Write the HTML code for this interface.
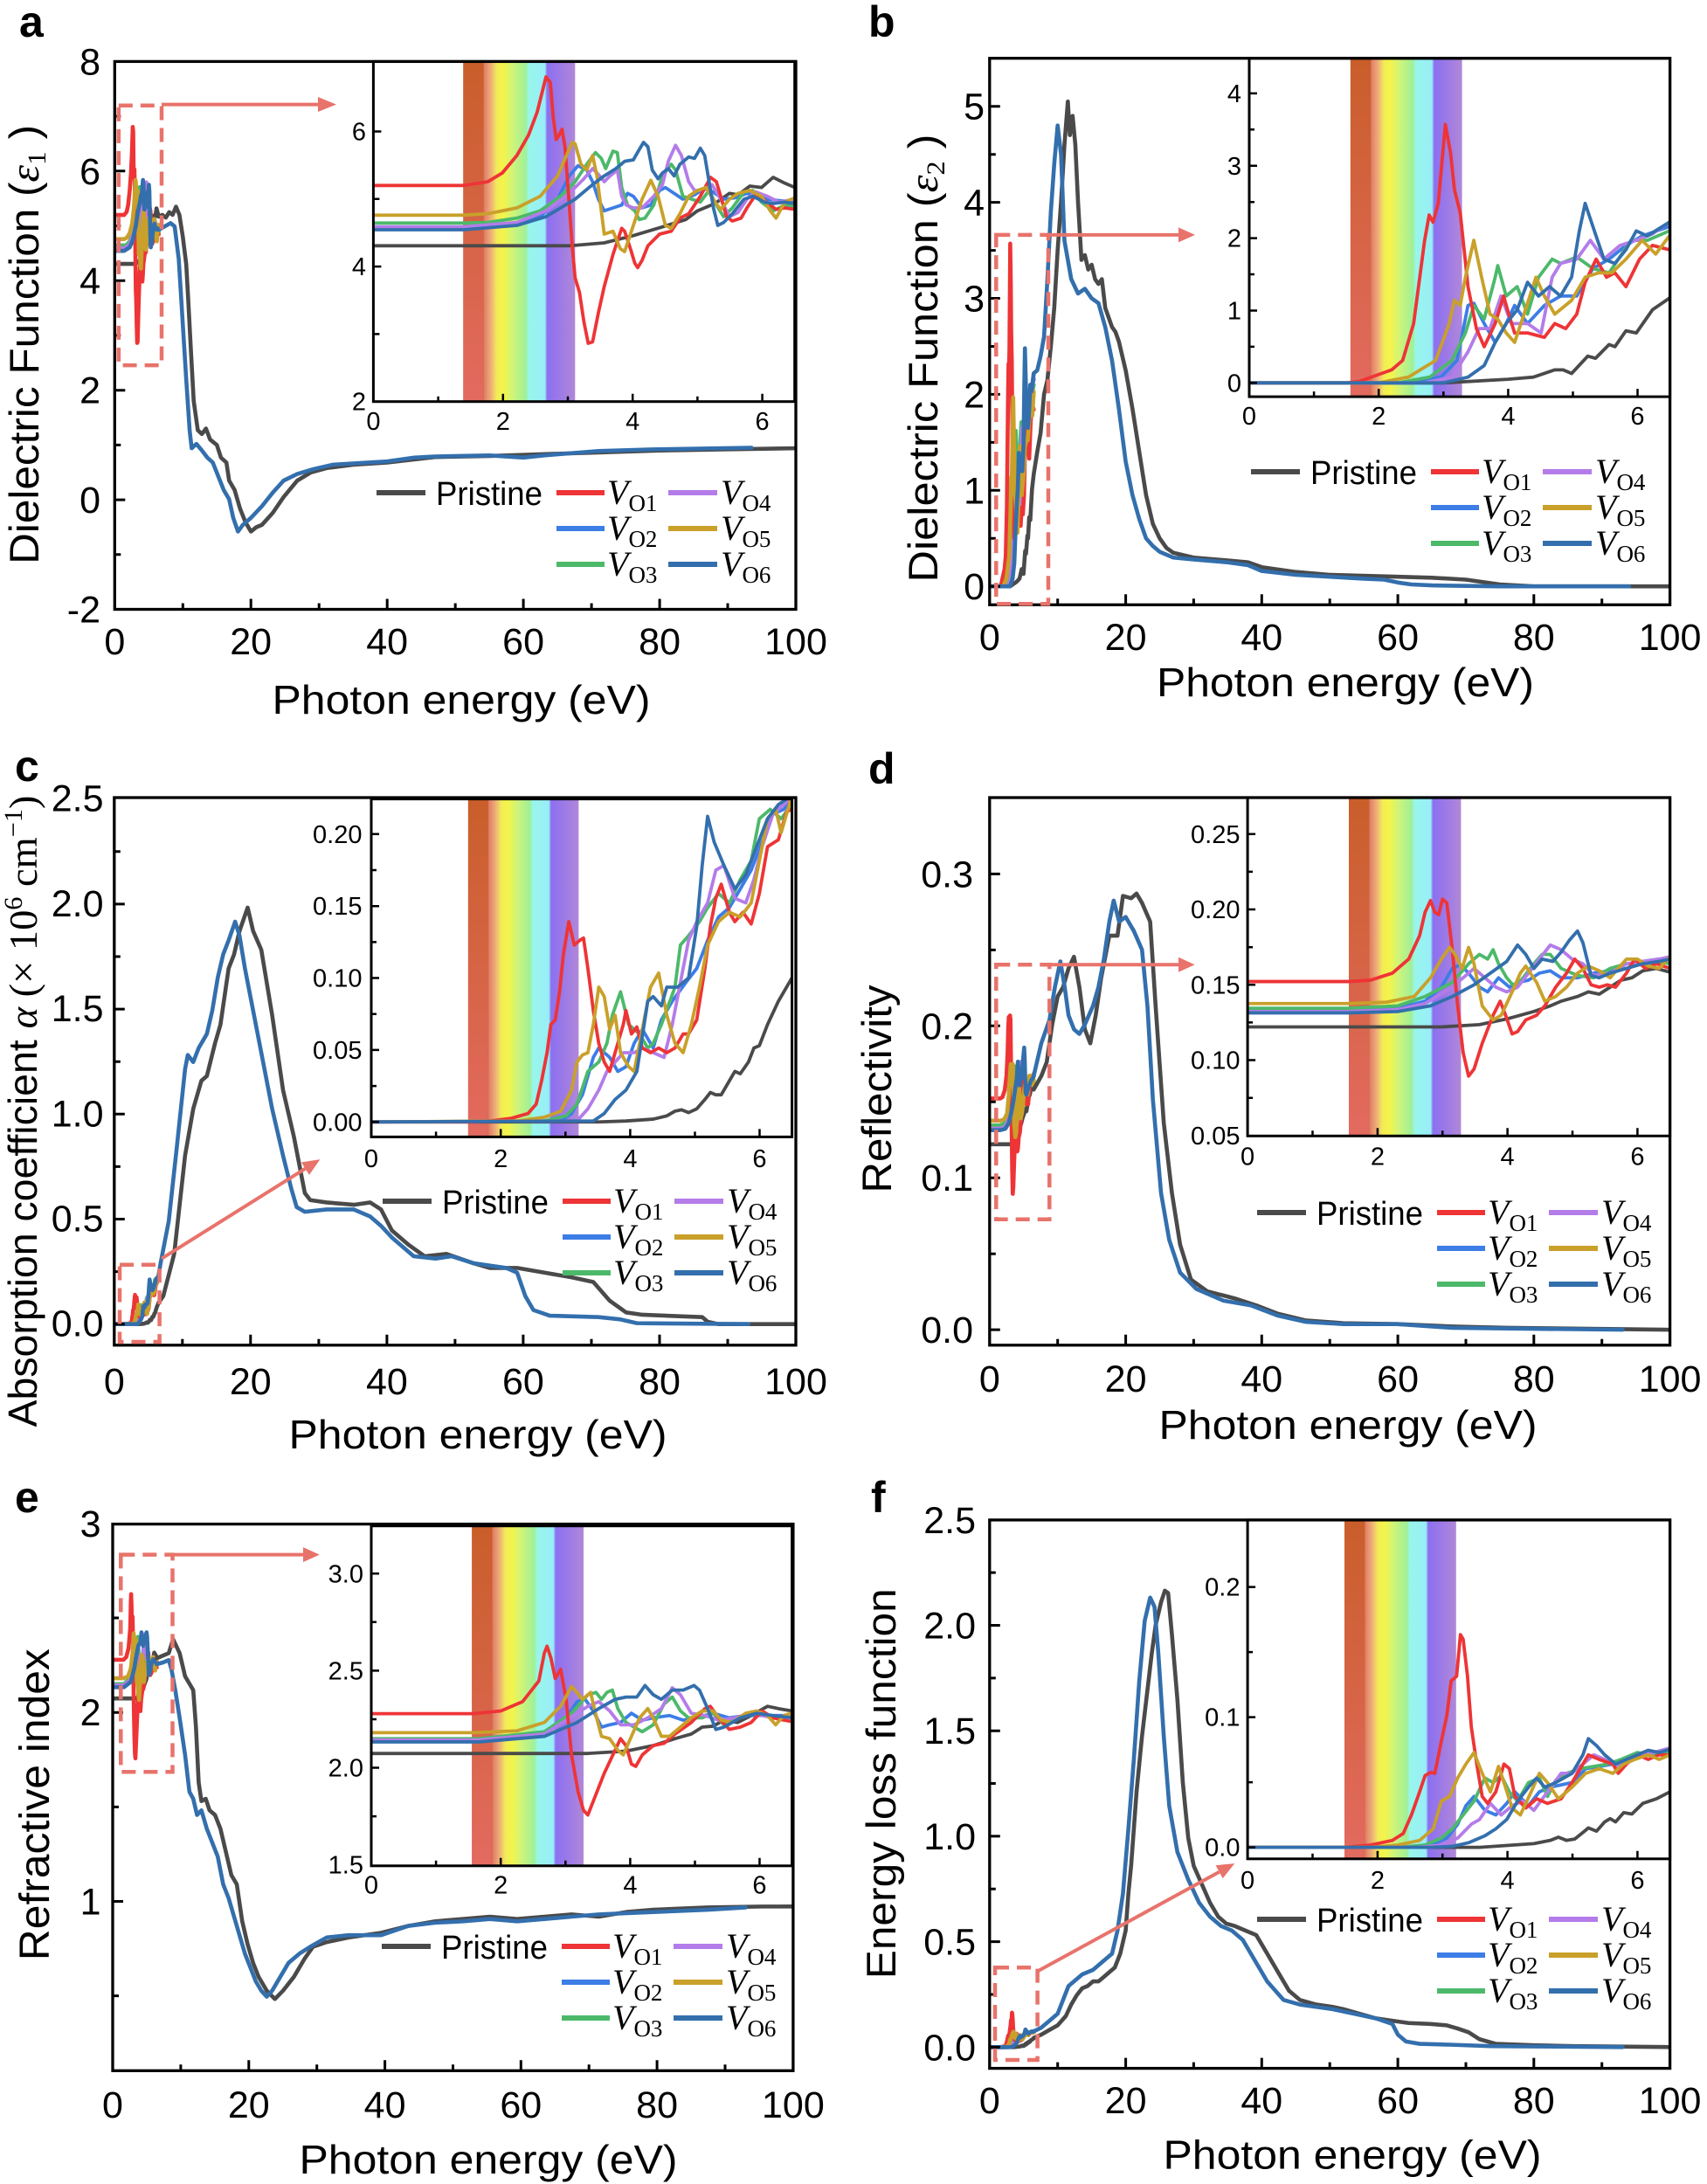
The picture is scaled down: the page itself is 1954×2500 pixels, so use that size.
<!DOCTYPE html>
<html><head><meta charset="utf-8"><style>
html,body{margin:0;padding:0;background:#fff;}
svg{display:block;}
text{font-family:"Liberation Sans",Arial,sans-serif;fill:#000;}
.c{fill:none;vector-effect:non-scaling-stroke;stroke-width:3.8;stroke-linejoin:round;stroke-linecap:round;}
.m{stroke-width:4.6;}
.g{stroke:#4a4a4a}.r{stroke:#ee3436}.bl{stroke:#3c7de6}.gr{stroke:#4cb96a}.pu{stroke:#b47ce9}.go{stroke:#c9a02a}.st{stroke:#336fad}
.fr{fill:none;stroke:#000;stroke-width:3.3}
.ifr{fill:none;stroke:#000;stroke-width:3}
.tk{fill:none;stroke:#000;stroke-width:3}
.itk{fill:none;stroke:#000;stroke-width:2.5}
.xl{font-size:43px;text-anchor:middle}
.yl{font-size:43px;text-anchor:end}
.ix{font-size:29px;text-anchor:middle}
.iy{font-size:29px;text-anchor:end}
.tt{font-size:46px;text-anchor:middle}
.pl{font-size:50px;font-weight:bold}
.lg{font-size:38px}
.vv{font-family:"Liberation Serif",serif;font-size:40px}
.db{fill:none;stroke:#e8736b;stroke-width:4.5;stroke-dasharray:16 9}
.ar{stroke:#e8736b;stroke-width:4}
.ah{fill:#e8736b}
</style></head><body>
<svg width="1954" height="2500" viewBox="0 0 1954 2500" xmlns="http://www.w3.org/2000/svg">
<defs>
<linearGradient id="rb" x1="0" x2="1" y1="0" y2="0">
<stop offset="0" stop-color="#c65a2a"/><stop offset="0.175" stop-color="#cc6030"/><stop offset="0.19" stop-color="#e08068"/><stop offset="0.25" stop-color="#f0b078"/><stop offset="0.3" stop-color="#f2ec58"/><stop offset="0.36" stop-color="#f4f44a"/><stop offset="0.44" stop-color="#d0f478"/><stop offset="0.56" stop-color="#a0f098"/><stop offset="0.585" stop-color="#98f6ea"/><stop offset="0.73" stop-color="#98eef8"/><stop offset="0.75" stop-color="#8c70f0"/><stop offset="0.85" stop-color="#9a78e8"/><stop offset="1" stop-color="#b088d8"/>
</linearGradient>
<linearGradient id="rb1" x1="0" x2="0" y1="0" y2="1"><stop offset="0" stop-color="#c95e2a"/><stop offset="1" stop-color="#e36a60"/></linearGradient>
<clipPath id="cA"><rect x="131.3" y="70.4" width="779.7" height="627.1"/></clipPath>
<clipPath id="cAi"><rect x="427.4" y="70.4" width="482.3" height="389.3"/></clipPath>
<clipPath id="cB"><rect x="1132.8" y="66.7" width="778.8" height="625.6"/></clipPath>
<clipPath id="cBi"><rect x="1430" y="66.7" width="481.6" height="387.4"/></clipPath>
<clipPath id="cC"><rect x="130.8" y="913" width="780.2" height="626.8"/></clipPath>
<clipPath id="cCi"><rect x="425" y="914.6" width="481.6" height="386.8"/></clipPath>
<clipPath id="cD"><rect x="1132.8" y="913" width="778.8" height="626.8"/></clipPath>
<clipPath id="cDi"><rect x="1428.1" y="913" width="483.5" height="387.3"/></clipPath>
<clipPath id="cE"><rect x="129" y="1744.6" width="778.9" height="625.7"/></clipPath>
<clipPath id="cEi"><rect x="425" y="1746.7" width="481.6" height="389.1"/></clipPath>
<clipPath id="cF"><rect x="1132.8" y="1739.9" width="778.8" height="627.7"/></clipPath>
<clipPath id="cFi"><rect x="1428.1" y="1739.9" width="483.5" height="387.9"/></clipPath>
</defs>
<rect width="1954" height="2500" fill="#fff"/>

<!-- ================= PANEL A ================= -->
<text class="pl" x="22" y="42">a</text>
<g clip-path="url(#cA)">
<path class="c m g" transform="matrix(0.034886,0,0,0.2703,131.02,129.06)" d="M8,640 L680,640 L800,630 L900,605 L1000,575 L1080,550 L1120,520 L1180,495 L1230,460 L1260,465 L1300,435 L1340,440 L1380,405 L1420,425 L1455,440"/>
<path class="c m g" transform="matrix(7.797,0,0,-62.71,131.3,572.08)" d="M6.47,5.17 L7,5.2 L7.5,5.15 L8,5.25 L8.5,5.2 L9,5.35 L9.5,5.2 L10,4.8 L10.5,4.3 L10.8,3.64 L11.2,2.7 L11.6,1.8 L12.2,1.27 L12.8,1.2 L13.4,1.3 L14,1.1 L15,1.0 L15.6,0.77 L16.4,0.68 L16.8,0.35 L17.6,0.18 L18.4,-0.16 L19.2,-0.41 L20,-0.58 L20.8,-0.5 L21.6,-0.46 L23.2,-0.24 L24.8,0.05 L26.8,0.35 L28.8,0.5 L31.2,0.58 L35,0.64 L40,0.68 L47,0.78 L55,0.8 L60,0.82 L70,0.86 L80,0.9 L90,0.92 L100,0.94"/>
<g transform="matrix(0.034886,0,0,0.2703,131.02,129.06)">
<path class="c m bl" d="M8,580 L316,580 L500,565 L580,540 L640,480 L680,400 L710,365 L740,380 L760,420 L780,480 L800,520 L830,510 L860,500 L880,460 L900,470 L930,510 L960,500 L990,450 L1010,440 L1040,460 L1070,480 L1110,465 L1150,440 L1180,460 L1210,480 L1250,475 L1290,460 L1320,470 L1360,480 L1400,485 L1455,490"/>
<path class="c m gr" d="M8,562 L316,562 L400,560 L500,545 L580,520 L650,470 L700,420 L740,360 L770,320 L790,340 L805,375 L830,315 L845,320 L860,440 L880,500 L905,520 L920,550 L940,545 L970,500 L1000,400 L1030,360 L1045,380 L1070,470 L1100,480 L1130,490 L1160,450 L1185,500 L1210,540 L1240,510 L1280,455 L1310,450 L1340,490 L1380,520 L1420,500 L1455,505"/>
<path class="c m pu" d="M8,575 L316,575 L500,560 L600,520 L680,460 L730,410 L760,375 L780,395 L800,420 L820,400 L845,380 L860,470 L875,500 L900,510 L930,510 L970,470 L1000,430 L1020,350 L1045,295 L1065,330 L1090,420 L1110,450 L1140,450 L1170,430 L1200,480 L1230,540 L1260,525 L1290,480 L1320,455 L1360,470 L1400,490 L1455,480"/>
<path class="c m r" d="M8,433 L316,433 L400,420 L450,390 L500,330 L540,260 L570,180 L590,100 L600,60 L615,80 L625,200 L635,275 L645,260 L655,240 L665,300 L680,500 L690,640 L700,750 L715,800 L730,900 L745,975 L760,970 L780,870 L800,780 L830,670 L860,580 L870,590 L890,650 L905,700 L915,715 L930,690 L950,640 L990,600 L1030,590 L1060,545 L1090,530 L1130,470 L1165,405 L1185,420 L1200,470 L1220,540 L1240,555 L1270,545 L1290,510 L1320,465 L1345,480 L1370,500 L1390,515 L1420,510 L1455,515"/>
<path class="c m go" d="M8,535 L316,535 L400,530 L500,510 L580,470 L640,400 L670,330 L690,285 L700,290 L720,360 L740,380 L760,330 L775,400 L800,600 L830,590 L855,650 L870,660 L900,570 L930,480 L960,415 L985,470 L1010,570 L1030,580 L1060,530 L1090,470 L1120,450 L1150,440 L1180,490 L1200,515 L1230,480 L1260,460 L1300,450 L1340,470 L1370,520 L1390,545 L1420,490 L1455,475"/>
<path class="c m st" d="M8,585 L316,585 L500,570 L600,540 L700,480 L760,430 L800,400 L840,375 L870,350 L900,345 L920,310 L935,285 L950,300 L965,380 L985,410 L1000,390 L1020,375 L1040,400 L1060,360 L1090,335 L1110,340 L1130,305 L1145,330 L1160,420 L1175,510 L1190,570 L1210,560 L1240,530 L1280,480 L1310,470 L1350,490 L1380,495 L1420,490 L1455,495"/>
</g>
<path class="c m st" transform="matrix(7.797,0,0,-62.71,131.3,572.08)" d="M6.47,4.93 L7.5,5.0 L8.2,5.05 L8.8,4.99 L9.4,4.4 L10,3.2 L10.5,2.2 L11,1.27 L11.3,0.94 L12,1.02 L12.8,0.9 L13.6,0.77 L14.4,0.68 L15.2,0.43 L16,0.18 L16.8,0.01 L17.4,-0.33 L18.1,-0.58 L18.8,-0.46 L20,-0.33 L21.6,-0.12 L23.2,0.13 L24.8,0.35 L26.8,0.47 L29.2,0.56 L32,0.64 L36,0.67 L40,0.7 L44,0.77 L47,0.79 L55,0.81 L60,0.77 L63,0.81 L71,0.89 L79,0.92 L93.5,0.95"/>
</g>
<!-- inset a -->
<rect x="427.4" y="70.4" width="482.3" height="389.3" fill="#fff"/>
<rect x="530.3" y="70.4" width="128" height="389.3" fill="url(#rb)"/>
<rect x="530.3" y="70.4" width="23" height="389.3" fill="url(#rb1)"/>
<g clip-path="url(#cAi)"><g transform="matrix(0.33333,0,0,0.33333,425,68)">
<path class="c g" d="M8,640 L680,640 L800,630 L900,605 L1000,575 L1080,550 L1120,520 L1180,495 L1230,460 L1260,465 L1300,435 L1340,440 L1380,405 L1420,425 L1455,440"/>
<path class="c bl" d="M8,580 L316,580 L500,565 L580,540 L640,480 L680,400 L710,365 L740,380 L760,420 L780,480 L800,520 L830,510 L860,500 L880,460 L900,470 L930,510 L960,500 L990,450 L1010,440 L1040,460 L1070,480 L1110,465 L1150,440 L1180,460 L1210,480 L1250,475 L1290,460 L1320,470 L1360,480 L1400,485 L1455,490"/>
<path class="c gr" d="M8,562 L316,562 L400,560 L500,545 L580,520 L650,470 L700,420 L740,360 L770,320 L790,340 L805,375 L830,315 L845,320 L860,440 L880,500 L905,520 L920,550 L940,545 L970,500 L1000,400 L1030,360 L1045,380 L1070,470 L1100,480 L1130,490 L1160,450 L1185,500 L1210,540 L1240,510 L1280,455 L1310,450 L1340,490 L1380,520 L1420,500 L1455,505"/>
<path class="c pu" d="M8,575 L316,575 L500,560 L600,520 L680,460 L730,410 L760,375 L780,395 L800,420 L820,400 L845,380 L860,470 L875,500 L900,510 L930,510 L970,470 L1000,430 L1020,350 L1045,295 L1065,330 L1090,420 L1110,450 L1140,450 L1170,430 L1200,480 L1230,540 L1260,525 L1290,480 L1320,455 L1360,470 L1400,490 L1455,480"/>
<path class="c r" d="M8,433 L316,433 L400,420 L450,390 L500,330 L540,260 L570,180 L590,100 L600,60 L615,80 L625,200 L635,275 L645,260 L655,240 L665,300 L680,500 L690,640 L700,750 L715,800 L730,900 L745,975 L760,970 L780,870 L800,780 L830,670 L860,580 L870,590 L890,650 L905,700 L915,715 L930,690 L950,640 L990,600 L1030,590 L1060,545 L1090,530 L1130,470 L1165,405 L1185,420 L1200,470 L1220,540 L1240,555 L1270,545 L1290,510 L1320,465 L1345,480 L1370,500 L1390,515 L1420,510 L1455,515"/>
<path class="c go" d="M8,535 L316,535 L400,530 L500,510 L580,470 L640,400 L670,330 L690,285 L700,290 L720,360 L740,380 L760,330 L775,400 L800,600 L830,590 L855,650 L870,660 L900,570 L930,480 L960,415 L985,470 L1010,570 L1030,580 L1060,530 L1090,470 L1120,450 L1150,440 L1180,490 L1200,515 L1230,480 L1260,460 L1300,450 L1340,470 L1370,520 L1390,545 L1420,490 L1455,475"/>
<path class="c st" d="M8,585 L316,585 L500,570 L600,540 L700,480 L760,430 L800,400 L840,375 L870,350 L900,345 L920,310 L935,285 L950,300 L965,380 L985,410 L1000,390 L1020,375 L1040,400 L1060,360 L1090,335 L1110,340 L1130,305 L1145,330 L1160,420 L1175,510 L1190,570 L1210,560 L1240,530 L1280,480 L1310,470 L1350,490 L1380,495 L1420,490 L1455,495"/>
</g></g>
<rect class="ifr" x="427.4" y="70.4" width="482.3" height="389.3"/>
<path class="itk" d="M501.6,459.7v-6M575.8,459.7v-9M650,459.7v-6M724.2,459.7v-9M798.4,459.7v-6M872.6,459.7v-9M427.4,382.4h7M427.4,305.1h9M427.4,227.8h7M427.4,150.5h9"/>
<text class="iy" x="419" y="469.7">2</text><text class="iy" x="419" y="315.1">4</text><text class="iy" x="419" y="160.5">6</text>
<text class="ix" x="427.4" y="492">0</text><text class="ix" x="575.8" y="492">2</text><text class="ix" x="724.2" y="492">4</text><text class="ix" x="872.6" y="492">6</text>
<!-- frame a -->
<rect class="fr" x="131.3" y="70.4" width="779.7" height="627.1"/>
<path class="tk" d="M287.2,697.5v-12M443.2,697.5v-12M599.1,697.5v-12M755.1,697.5v-12M209.3,697.5v-7M365.2,697.5v-7M521.2,697.5v-7M677.1,697.5v-7M833,697.5v-7M131.3,572.1h12M131.3,446.7h12M131.3,321.2h12M131.3,195.8h12M131.3,634.8h7M131.3,509.4h7M131.3,383.9h7M131.3,258.5h7M131.3,133.1h7"/>
<text class="yl" x="115" y="85.4">8</text><text class="yl" x="115" y="210.8">6</text><text class="yl" x="115" y="336.2">4</text><text class="yl" x="115" y="461.7">2</text><text class="yl" x="115" y="587.1">0</text><text class="yl" x="115" y="712.5">-2</text>
<text class="xl" x="131.3" y="749">0</text><text class="xl" x="287.2" y="749">20</text><text class="xl" x="443.2" y="749">40</text><text class="xl" x="599.1" y="749">60</text><text class="xl" x="755.1" y="749">80</text><text class="xl" x="911" y="749">100</text>
<text class="tt" x="528" y="817" textLength="433" lengthAdjust="spacingAndGlyphs">Photon energy (eV)</text>
<text transform="translate(44,394.4) rotate(-90)" font-size="47" text-anchor="middle" textLength="503" lengthAdjust="spacingAndGlyphs">Dielectric Function (<tspan font-family="Liberation Serif" font-style="italic">ε</tspan><tspan font-family="Liberation Serif" font-size="30" dy="8">1</tspan><tspan dy="-8"> )</tspan></text>
<rect class="db" x="135.8" y="120.7" width="49.2" height="297.4"/>
<line class="ar" x1="185" y1="119.6" x2="366" y2="119.6"/><polygon class="ah" points="385,119.6 364,111 364,128"/>
<g transform="translate(431,564)">
<line x1="0" x2="56" y1="0" y2="0" stroke="#4a4a4a" stroke-width="6"/><text class="lg" x="68" y="14" textLength="122" lengthAdjust="spacingAndGlyphs">Pristine</text>
<line x1="206" x2="261" y1="0" y2="0" stroke="#ee3436" stroke-width="6"/><text class="vv" x="264" y="13"><tspan font-style="italic">V</tspan><tspan font-size="27" dy="8">O1</tspan></text>
<line x1="206" x2="261" y1="41" y2="41" stroke="#3c7de6" stroke-width="6"/><text class="vv" x="264" y="54"><tspan font-style="italic">V</tspan><tspan font-size="27" dy="8">O2</tspan></text>
<line x1="206" x2="261" y1="82" y2="82" stroke="#4cb96a" stroke-width="6"/><text class="vv" x="264" y="95"><tspan font-style="italic">V</tspan><tspan font-size="27" dy="8">O3</tspan></text>
<line x1="334" x2="390" y1="0" y2="0" stroke="#b47ce9" stroke-width="6"/><text class="vv" x="394" y="13"><tspan font-style="italic">V</tspan><tspan font-size="27" dy="8">O4</tspan></text>
<line x1="334" x2="390" y1="41" y2="41" stroke="#c9a02a" stroke-width="6"/><text class="vv" x="394" y="54"><tspan font-style="italic">V</tspan><tspan font-size="27" dy="8">O5</tspan></text>
<line x1="334" x2="390" y1="82" y2="82" stroke="#336fad" stroke-width="6"/><text class="vv" x="394" y="95"><tspan font-style="italic">V</tspan><tspan font-size="27" dy="8">O6</tspan></text>
</g>

<!-- ================= PANEL B ================= -->
<text class="pl" x="994" y="42">b</text>
<g clip-path="url(#cB)"><g transform="matrix(7.788,0,0,-109.9,1132.8,671.2)">
<path class="c m g" d="M0,0 L3,0 L4,0.05 L4.39,0.08 L4.72,0.18 L4.85,0.18 L4.98,0.13 L5.23,0.37 L5.35,0.34 L5.56,0.53 L5.65,0.5 L5.82,0.72 L5.98,0.69 L6.23,1.01 L6.49,1.17 L7,1.4 L7.5,1.6 L8,2.0 L8.5,2.15 L9,2.5 L9.5,2.9 L10,3.5 L10.5,4.0 L11,4.6 L11.5,5.05 L11.8,4.7 L12.2,4.9 L12.6,4.6 L13,4.0 L13.5,3.4 L14,3.45 L14.5,3.3 L15,3.35 L15.5,3.2 L16,3.15 L16.5,3.2 L17,2.9 L17.5,2.8 L18,2.7 L18.5,2.65 L19,2.55 L19.5,2.4 L20,2.25 L21,1.85 L22,1.4 L23,0.95 L24,0.65 L25,0.5 L26,0.4 L27,0.35 L30,0.3 L35,0.27 L38,0.25 L40,0.2 L45,0.15 L50,0.12 L60,0.1 L65,0.09 L70,0.07 L75,0.02 L80,0 L100,0"/>
<path class="c m bl" d="M0,0 L2.5,0 L2.96,0.08 L3.21,0.31 L3.38,1.07 L3.47,1.1 L3.63,0.82 L3.8,0.56 L3.97,0.82 L4.1,1.07 L4.3,0.82 L4.56,1.07 L4.81,1.2 L5.06,1.2 L5.31,1.58 L5.56,1.71 L5.82,1.9 L6.07,2.03 L6.49,2.16"/>
<path class="c m gr" d="M0,0 L2.3,0 L2.79,0.08 L3.13,0.31 L3.34,0.69 L3.47,1.07 L3.63,0.88 L3.8,1.46 L3.84,1.62 L3.97,1.2 L4.14,1.33 L4.3,0.95 L4.47,1.46 L4.68,1.71 L4.81,1.65 L5.06,1.74 L5.31,1.58 L5.56,1.52 L5.9,1.97 L6.15,1.97 L6.49,2.1"/>
<path class="c m pu" d="M0,0 L2.7,0 L3.13,0.08 L3.38,0.43 L3.55,0.75 L3.72,0.75 L3.89,1.2 L4.05,0.82 L4.3,0.82 L4.51,0.69 L4.68,1.46 L4.81,1.65 L5.06,1.71 L5.27,1.97 L5.48,1.71 L5.73,1.9 L5.98,1.97 L6.23,2.06 L6.49,2.22"/>
<path class="c m r" d="M0,0 L1.5,0 L1.7,0.02 L2.2,0.18 L2.37,0.31 L2.54,0.82 L2.71,1.97 L2.78,2.32 L2.84,2.22 L2.92,2.48 L3.03,3.57 L3.11,3.18 L3.17,2.67 L3.26,2.35 L3.38,1.33 L3.51,0.75 L3.63,0.5 L3.8,0.82 L3.93,1.2 L4.01,0.95 L4.1,0.69 L4.3,0.69 L4.56,0.63 L4.72,0.82 L4.89,0.75 L5.06,0.95 L5.19,1.39 L5.36,1.71 L5.52,1.46 L5.65,1.52 L5.82,1.33 L6.03,1.71 L6.23,1.9 L6.49,1.84"/>
<path class="c m go" d="M0,0 L2,0 L2.46,0.08 L2.88,0.31 L3.09,0.82 L3.17,1.14 L3.26,1.07 L3.34,1.46 L3.47,1.97 L3.59,1.46 L3.72,0.95 L3.84,0.88 L3.97,0.69 L4.1,0.56 L4.22,0.88 L4.43,1.46 L4.56,1.2 L4.72,0.95 L4.98,1.14 L5.19,1.46 L5.4,1.52 L5.6,1.52 L5.82,1.71 L6.07,1.97 L6.28,1.78 L6.49,2.03"/>
<path class="c m st" d="M0,0 L3,0 L3.38,0.08 L3.63,0.24 L3.8,0.56 L3.97,0.82 L4.14,1.01 L4.3,1.39 L4.47,1.2 L4.64,1.33 L4.81,1.2 L4.98,1.46 L5.1,2.1 L5.19,2.48 L5.31,2.16 L5.48,1.71 L5.65,1.65 L5.82,1.84 L5.98,2.1 L6.15,2.03 L6.49,2.22 L7,2.25 L7.5,2.4 L8,2.6 L8.5,3.2 L9,3.9 L9.5,4.4 L10,4.8 L10.5,4.5 L11,3.6 L11.5,3.4 L12,3.2 L13,3.05 L14,3.1 L15,3.0 L16,2.95 L17,2.7 L18,2.35 L19,1.85 L20,1.3 L21,0.95 L22,0.7 L23,0.5 L24,0.42 L25,0.36 L27,0.3 L30,0.28 L35,0.25 L38,0.22 L40,0.16 L45,0.12 L50,0.1 L55,0.08 L58,0.07 L60,0.04 L62,0.02 L65,0.01 L75,0 L94,0"/>
</g></g>
<rect x="1430" y="66.7" width="481.6" height="387.4" fill="#fff"/>
<rect x="1545.9" y="66.7" width="127.7" height="387.4" fill="url(#rb)"/>
<rect x="1545.9" y="66.7" width="23" height="387.4" fill="url(#rb1)"/>
<g clip-path="url(#cBi)"><g transform="matrix(74.09,0,0,-82.85,1430,438.3)">
<path class="c g" d="M0,0 L3,0 L4,0.05 L4.39,0.08 L4.72,0.18 L4.85,0.18 L4.98,0.13 L5.23,0.37 L5.35,0.34 L5.56,0.53 L5.65,0.5 L5.82,0.72 L5.98,0.69 L6.23,1.01 L6.49,1.17"/>
<path class="c bl" d="M0,0 L2.5,0 L2.96,0.08 L3.21,0.31 L3.38,1.07 L3.47,1.1 L3.63,0.82 L3.8,0.56 L3.97,0.82 L4.1,1.07 L4.3,0.82 L4.56,1.07 L4.81,1.2 L5.06,1.2 L5.31,1.58 L5.56,1.71 L5.82,1.9 L6.07,2.03 L6.49,2.16"/>
<path class="c gr" d="M0,0 L2.3,0 L2.79,0.08 L3.13,0.31 L3.34,0.69 L3.47,1.07 L3.63,0.88 L3.8,1.46 L3.84,1.62 L3.97,1.2 L4.14,1.33 L4.3,0.95 L4.47,1.46 L4.68,1.71 L4.81,1.65 L5.06,1.74 L5.31,1.58 L5.56,1.52 L5.9,1.97 L6.15,1.97 L6.49,2.1"/>
<path class="c pu" d="M0,0 L2.7,0 L3.13,0.08 L3.38,0.43 L3.55,0.75 L3.72,0.75 L3.89,1.2 L4.05,0.82 L4.3,0.82 L4.51,0.69 L4.68,1.46 L4.81,1.65 L5.06,1.71 L5.27,1.97 L5.48,1.71 L5.73,1.9 L5.98,1.97 L6.23,2.06 L6.49,2.22"/>
<path class="c r" d="M0,0 L1.5,0 L1.7,0.02 L2.2,0.18 L2.37,0.31 L2.54,0.82 L2.71,1.97 L2.78,2.32 L2.84,2.22 L2.92,2.48 L3.03,3.57 L3.11,3.18 L3.17,2.67 L3.26,2.35 L3.38,1.33 L3.51,0.75 L3.63,0.5 L3.8,0.82 L3.93,1.2 L4.01,0.95 L4.1,0.69 L4.3,0.69 L4.56,0.63 L4.72,0.82 L4.89,0.75 L5.06,0.95 L5.19,1.39 L5.36,1.71 L5.52,1.46 L5.65,1.52 L5.82,1.33 L6.03,1.71 L6.23,1.9 L6.49,1.84"/>
<path class="c go" d="M0,0 L2,0 L2.46,0.08 L2.88,0.31 L3.09,0.82 L3.17,1.14 L3.26,1.07 L3.34,1.46 L3.47,1.97 L3.59,1.46 L3.72,0.95 L3.84,0.88 L3.97,0.69 L4.1,0.56 L4.22,0.88 L4.43,1.46 L4.56,1.2 L4.72,0.95 L4.98,1.14 L5.19,1.46 L5.4,1.52 L5.6,1.52 L5.82,1.71 L6.07,1.97 L6.28,1.78 L6.49,2.03"/>
<path class="c st" d="M0,0 L3,0 L3.38,0.08 L3.63,0.24 L3.8,0.56 L3.97,0.82 L4.14,1.01 L4.3,1.39 L4.47,1.2 L4.64,1.33 L4.81,1.2 L4.98,1.46 L5.1,2.1 L5.19,2.48 L5.31,2.16 L5.48,1.71 L5.65,1.65 L5.82,1.84 L5.98,2.1 L6.15,2.03 L6.49,2.22"/>
</g></g>
<rect class="ifr" x="1430" y="66.7" width="481.6" height="387.4"/>
<path class="itk" d="M1504.1,454.1v-6M1578.2,454.1v-9M1652.3,454.1v-6M1726.4,454.1v-9M1800.5,454.1v-6M1874.5,454.1v-9M1430,438.3h9M1430,355.45h9M1430,272.6h9M1430,189.75h9M1430,106.9h9M1430,396.9h6M1430,314h6M1430,231.2h6M1430,148.3h6"/>
<text class="iy" x="1421" y="448.3">0</text><text class="iy" x="1421" y="365.45">1</text><text class="iy" x="1421" y="282.6">2</text><text class="iy" x="1421" y="199.75">3</text><text class="iy" x="1421" y="116.9">4</text>
<text class="ix" x="1430" y="486">0</text><text class="ix" x="1578.2" y="486">2</text><text class="ix" x="1726.4" y="486">4</text><text class="ix" x="1874.5" y="486">6</text>
<rect class="fr" x="1132.8" y="66.7" width="778.8" height="625.6"/>
<path class="tk" d="M1288.6,692.3v-12M1444.3,692.3v-12M1600.1,692.3v-12M1755.8,692.3v-12M1210.7,692.3v-7M1366.4,692.3v-7M1522.2,692.3v-7M1678,692.3v-7M1833.7,692.3v-7M1132.8,671.2h12M1132.8,561.3h12M1132.8,451.4h12M1132.8,341.5h12M1132.8,231.6h12M1132.8,121.7h12M1132.8,616.3h7M1132.8,506.4h7M1132.8,396.5h7M1132.8,286.6h7M1132.8,176.7h7"/>
<text class="yl" x="1127" y="136.7">5</text><text class="yl" x="1127" y="246.6">4</text><text class="yl" x="1127" y="356.5">3</text><text class="yl" x="1127" y="466.4">2</text><text class="yl" x="1127" y="576.3">1</text><text class="yl" x="1127" y="686.2">0</text>
<text class="xl" x="1132.8" y="744">0</text><text class="xl" x="1288.6" y="744">20</text><text class="xl" x="1444.3" y="744">40</text><text class="xl" x="1600.1" y="744">60</text><text class="xl" x="1755.8" y="744">80</text><text class="xl" x="1911.6" y="744">100</text>
<text class="tt" x="1540" y="797" textLength="432" lengthAdjust="spacingAndGlyphs">Photon energy (eV)</text>
<text transform="translate(1073,410) rotate(-90)" font-size="47" text-anchor="middle" textLength="513" lengthAdjust="spacingAndGlyphs">Dielectric Function (<tspan font-family="Liberation Serif" font-style="italic">ε</tspan><tspan font-family="Liberation Serif" font-size="30" dy="8">2</tspan><tspan dy="-8"> )</tspan></text>
<rect class="db" x="1140.3" y="268.9" width="59.7" height="422.4"/>
<line class="ar" x1="1200" y1="268.9" x2="1350" y2="268.9"/><polygon class="ah" points="1368,268.9 1349,260.4 1349,277.4"/>
<g transform="translate(1432,540)">
<line x1="0" x2="56" y1="0" y2="0" stroke="#4a4a4a" stroke-width="6"/><text class="lg" x="68" y="14" textLength="122" lengthAdjust="spacingAndGlyphs">Pristine</text>
<line x1="206" x2="261" y1="0" y2="0" stroke="#ee3436" stroke-width="6"/><text class="vv" x="264" y="13"><tspan font-style="italic">V</tspan><tspan font-size="27" dy="8">O1</tspan></text>
<line x1="206" x2="261" y1="41" y2="41" stroke="#3c7de6" stroke-width="6"/><text class="vv" x="264" y="54"><tspan font-style="italic">V</tspan><tspan font-size="27" dy="8">O2</tspan></text>
<line x1="206" x2="261" y1="82" y2="82" stroke="#4cb96a" stroke-width="6"/><text class="vv" x="264" y="95"><tspan font-style="italic">V</tspan><tspan font-size="27" dy="8">O3</tspan></text>
<line x1="334" x2="390" y1="0" y2="0" stroke="#b47ce9" stroke-width="6"/><text class="vv" x="394" y="13"><tspan font-style="italic">V</tspan><tspan font-size="27" dy="8">O4</tspan></text>
<line x1="334" x2="390" y1="41" y2="41" stroke="#c9a02a" stroke-width="6"/><text class="vv" x="394" y="54"><tspan font-style="italic">V</tspan><tspan font-size="27" dy="8">O5</tspan></text>
<line x1="334" x2="390" y1="82" y2="82" stroke="#336fad" stroke-width="6"/><text class="vv" x="394" y="95"><tspan font-style="italic">V</tspan><tspan font-size="27" dy="8">O6</tspan></text>
</g>

<!-- ================= PANEL C ================= -->
<text class="pl" x="17" y="894">c</text>
<g clip-path="url(#cC)">
<g transform="matrix(0.06547,0,0,0.078179,86.15,1449.4)">
<path class="c m g" d="M682,848 L1100,848 L1150,846 L1200,842 L1225,835 L1240,825 L1252,822 L1265,828 L1280,820 L1295,800 L1305,785 L1315,790 L1325,790 L1340,760 L1350,740 L1360,745 L1375,720 L1385,690 L1395,685 L1410,640 L1430,590 L1455,540"/>
<path class="c m bl" d="M682,848 L1030,846 L1050,830 L1070,790 L1090,710 L1100,690 L1110,700 L1120,710 L1135,740 L1150,730 L1165,680 L1180,650 L1200,690 L1215,630 L1235,590 L1260,550 L1280,520 L1300,460 L1320,410 L1340,390 L1360,350 L1380,310 L1400,250 L1420,190 L1440,180 L1455,160"/>
<path class="c m gr" d="M682,848 L1000,846 L1040,835 L1060,810 L1080,740 L1100,720 L1115,680 L1125,620 L1140,570 L1155,640 L1175,660 L1190,690 L1200,680 L1215,640 L1240,560 L1250,470 L1265,450 L1285,420 L1300,390 L1320,360 L1340,380 L1360,330 L1380,290 L1395,200 L1415,180 L1435,200 L1455,170"/>
<path class="c m pu" d="M682,848 L1060,846 L1080,820 L1100,780 L1115,740 L1130,720 L1145,700 L1165,700 L1180,690 L1200,700 L1220,710 L1235,640 L1250,550 L1265,460 L1280,420 L1300,380 L1315,310 L1330,300 L1350,370 L1370,380 L1385,330 L1400,260 L1420,190 L1440,170 L1455,150"/>
<path class="c m r" d="M682,848 L860,848 L900,846 L940,840 L970,830 L985,810 L995,760 L1005,700 L1012,640 L1020,630 L1028,570 L1035,490 L1045,420 L1055,470 L1065,460 L1072,455 L1080,520 L1090,610 L1100,680 L1110,720 L1120,740 L1130,700 L1145,640 L1150,610 L1160,660 L1170,645 L1180,690 L1195,700 L1210,690 L1225,700 L1240,690 L1255,660 L1265,660 L1280,630 L1295,520 L1305,430 L1315,370 L1325,340 L1340,400 L1350,420 L1365,400 L1380,425 L1395,360 L1410,260 L1430,245 L1445,185 L1455,180"/>
<path class="c m go" d="M682,848 L950,846 L1000,838 L1030,825 L1050,780 L1060,720 L1070,705 L1080,700 L1090,640 L1100,560 L1110,580 L1120,650 L1130,620 L1140,700 L1155,730 L1165,740 L1180,650 L1195,560 L1210,530 L1225,620 L1240,680 L1255,700 L1270,640 L1285,560 L1300,470 L1320,420 L1340,400 L1360,410 L1380,380 L1395,290 L1410,200 L1425,180 L1435,230 L1445,190 L1455,150"/>
<path class="c m st" d="M682,848 L1090,846 L1110,830 L1130,800 L1150,780 L1170,740 L1190,590 L1200,580 L1215,600 L1225,560 L1245,560 L1265,540 L1280,430 L1290,300 L1300,195 L1312,250 L1330,300 L1350,350 L1370,320 L1390,260 L1410,200 L1430,170 L1455,150"/>
</g>
<g transform="matrix(0.6231,0,0,0.5357,0,830)">
<path class="c m g" d="M291,1235 L300,1220 L320,1130 L340,920 L355,820 L370,760 L380,750 L395,680 L405,640 L420,520 L430,490 L440,440 L455,390 L465,440 L480,480 L500,620 L520,780 L540,880 L560,1000 L570,1015 L600,1020 L650,1025 L680,1020 L700,1035 L720,1080 L750,1110 L780,1135 L820,1130 L870,1150 L900,1160 L950,1160 L1000,1170 L1050,1180 L1090,1190 L1120,1230 L1150,1255 L1180,1260 L1290,1265 L1300,1275 L1320,1280 L1462,1280"/>
<path class="c m st" d="M291,1178 L295,1150 L310,1060 L325,900 L340,735 L345,705 L355,720 L365,690 L380,660 L390,610 L400,540 L410,490 L420,460 L432,420 L440,450 L450,520 L460,580 L480,700 L500,820 L520,920 L535,990 L545,1030 L560,1040 L600,1035 L650,1035 L680,1050 L700,1070 L720,1095 L760,1135 L800,1140 L830,1135 L870,1150 L930,1160 L950,1170 L965,1220 L980,1250 L1010,1262 L1100,1265 L1140,1270 L1170,1278 L1375,1280"/>
</g>
</g>
<rect x="425" y="914.6" width="481.6" height="386.8" fill="#fff"/>
<rect x="535.9" y="914.6" width="126.5" height="386.8" fill="url(#rb)"/>
<rect x="535.9" y="914.6" width="22.8" height="386.8" fill="url(#rb1)"/>
<g clip-path="url(#cCi)"><g transform="matrix(0.6231,0,0,0.5357,0,830)">
<path class="c g" d="M682,848 L1100,848 L1150,846 L1200,842 L1225,835 L1240,825 L1252,822 L1265,828 L1280,820 L1295,800 L1305,785 L1315,790 L1325,790 L1340,760 L1350,740 L1360,745 L1375,720 L1385,690 L1395,685 L1410,640 L1430,590 L1455,540"/>
<path class="c bl" d="M682,848 L1030,846 L1050,830 L1070,790 L1090,710 L1100,690 L1110,700 L1120,710 L1135,740 L1150,730 L1165,680 L1180,650 L1200,690 L1215,630 L1235,590 L1260,550 L1280,520 L1300,460 L1320,410 L1340,390 L1360,350 L1380,310 L1400,250 L1420,190 L1440,180 L1455,160"/>
<path class="c gr" d="M682,848 L1000,846 L1040,835 L1060,810 L1080,740 L1100,720 L1115,680 L1125,620 L1140,570 L1155,640 L1175,660 L1190,690 L1200,680 L1215,640 L1240,560 L1250,470 L1265,450 L1285,420 L1300,390 L1320,360 L1340,380 L1360,330 L1380,290 L1395,200 L1415,180 L1435,200 L1455,170"/>
<path class="c pu" d="M682,848 L1060,846 L1080,820 L1100,780 L1115,740 L1130,720 L1145,700 L1165,700 L1180,690 L1200,700 L1220,710 L1235,640 L1250,550 L1265,460 L1280,420 L1300,380 L1315,310 L1330,300 L1350,370 L1370,380 L1385,330 L1400,260 L1420,190 L1440,170 L1455,150"/>
<path class="c r" d="M682,848 L860,848 L900,846 L940,840 L970,830 L985,810 L995,760 L1005,700 L1012,640 L1020,630 L1028,570 L1035,490 L1045,420 L1055,470 L1065,460 L1072,455 L1080,520 L1090,610 L1100,680 L1110,720 L1120,740 L1130,700 L1145,640 L1150,610 L1160,660 L1170,645 L1180,690 L1195,700 L1210,690 L1225,700 L1240,690 L1255,660 L1265,660 L1280,630 L1295,520 L1305,430 L1315,370 L1325,340 L1340,400 L1350,420 L1365,400 L1380,425 L1395,360 L1410,260 L1430,245 L1445,185 L1455,180"/>
<path class="c go" d="M682,848 L950,846 L1000,838 L1030,825 L1050,780 L1060,720 L1070,705 L1080,700 L1090,640 L1100,560 L1110,580 L1120,650 L1130,620 L1140,700 L1155,730 L1165,740 L1180,650 L1195,560 L1210,530 L1225,620 L1240,680 L1255,700 L1270,640 L1285,560 L1300,470 L1320,420 L1340,400 L1360,410 L1380,380 L1395,290 L1410,200 L1425,180 L1435,230 L1445,190 L1455,150"/>
<path class="c st" d="M682,848 L1090,846 L1110,830 L1130,800 L1150,780 L1170,740 L1190,590 L1200,580 L1215,600 L1225,560 L1245,560 L1265,540 L1280,430 L1290,300 L1300,195 L1312,250 L1330,300 L1350,350 L1370,320 L1390,260 L1410,200 L1430,170 L1455,150"/>
</g></g>
<rect class="ifr" x="425" y="914.6" width="481.6" height="386.8"/>
<path class="itk" d="M499.1,1301.4v-6M573.2,1301.4v-9M647.3,1301.4v-6M721.4,1301.4v-9M795.5,1301.4v-6M869.5,1301.4v-9M425,1284.3h9M425,1201.9h9M425,1119.55h9M425,1037.2h9M425,954.8h9M425,1243.1h6M425,1160.7h6M425,1078.4h6M425,996h6"/>
<text class="iy" x="414.5" y="1294.3" font-size="31">0.00</text><text class="iy" x="414.5" y="1211.9" font-size="31">0.05</text><text class="iy" x="414.5" y="1129.55" font-size="31">0.10</text><text class="iy" x="414.5" y="1047.2" font-size="31">0.15</text><text class="iy" x="414.5" y="964.8" font-size="31">0.20</text>
<text class="ix" x="425" y="1336" font-size="31">0</text><text class="ix" x="573.2" y="1336" font-size="31">2</text><text class="ix" x="721.4" y="1336" font-size="31">4</text><text class="ix" x="869.5" y="1336" font-size="31">6</text>
<rect class="fr" x="130.8" y="913" width="780.2" height="626.8"/>
<path class="tk" d="M286.8,1539.8v-12M442.9,1539.8v-12M598.9,1539.8v-12M755,1539.8v-12M208.8,1539.8v-7M364.9,1539.8v-7M520.9,1539.8v-7M677,1539.8v-7M833,1539.8v-7M130.8,1515.7h12M130.8,1395.5h12M130.8,1275.3h12M130.8,1155.1h12M130.8,1034.9h12M130.8,1455.6h7M130.8,1335.4h7M130.8,1215.2h7M130.8,1095h7M130.8,974.8h7"/>
<text class="yl" x="118.5" y="928.7" font-size="40">2.5</text><text class="yl" x="118.5" y="1048.9" font-size="40">2.0</text><text class="yl" x="118.5" y="1169.1" font-size="40">1.5</text><text class="yl" x="118.5" y="1289.3" font-size="40">1.0</text><text class="yl" x="118.5" y="1409.5" font-size="40">0.5</text><text class="yl" x="118.5" y="1529.7" font-size="40">0.0</text>
<text class="xl" x="130.8" y="1596">0</text><text class="xl" x="286.8" y="1596">20</text><text class="xl" x="442.9" y="1596">40</text><text class="xl" x="598.9" y="1596">60</text><text class="xl" x="755" y="1596">80</text><text class="xl" x="911" y="1596">100</text>
<text class="tt" x="547" y="1658" textLength="433" lengthAdjust="spacingAndGlyphs">Photon energy (eV)</text>
<text transform="translate(42,1272) rotate(-90)" font-size="46" text-anchor="middle" textLength="723" lengthAdjust="spacingAndGlyphs">Absorption coefficient <tspan font-family="Liberation Serif" font-style="italic">α</tspan><tspan font-family="Liberation Serif"> (× 10</tspan><tspan font-family="Liberation Serif" font-size="30" dy="-17">6</tspan><tspan font-family="Liberation Serif" dy="17"> cm</tspan><tspan font-family="Liberation Serif" font-size="30" dy="-17">−1</tspan><tspan font-family="Liberation Serif" dy="17">)</tspan></text>
<rect class="db" x="137" y="1447.7" width="45.6" height="88.3"/>
<line class="ar" x1="185" y1="1440.7" x2="349.5" y2="1337.7"/><polygon class="ah" points="366.4,1327.1 354,1344.9 344.9,1330.5"/>
<g transform="translate(438,1375)">
<line x1="0" x2="56" y1="0" y2="0" stroke="#4a4a4a" stroke-width="6"/><text class="lg" x="68" y="14" textLength="122" lengthAdjust="spacingAndGlyphs">Pristine</text>
<line x1="206" x2="261" y1="0" y2="0" stroke="#ee3436" stroke-width="6"/><text class="vv" x="264" y="13"><tspan font-style="italic">V</tspan><tspan font-size="27" dy="8">O1</tspan></text>
<line x1="206" x2="261" y1="41" y2="41" stroke="#3c7de6" stroke-width="6"/><text class="vv" x="264" y="54"><tspan font-style="italic">V</tspan><tspan font-size="27" dy="8">O2</tspan></text>
<line x1="206" x2="261" y1="82" y2="82" stroke="#4cb96a" stroke-width="6"/><text class="vv" x="264" y="95"><tspan font-style="italic">V</tspan><tspan font-size="27" dy="8">O3</tspan></text>
<line x1="334" x2="390" y1="0" y2="0" stroke="#b47ce9" stroke-width="6"/><text class="vv" x="394" y="13"><tspan font-style="italic">V</tspan><tspan font-size="27" dy="8">O4</tspan></text>
<line x1="334" x2="390" y1="41" y2="41" stroke="#c9a02a" stroke-width="6"/><text class="vv" x="394" y="54"><tspan font-style="italic">V</tspan><tspan font-size="27" dy="8">O5</tspan></text>
<line x1="334" x2="390" y1="82" y2="82" stroke="#336fad" stroke-width="6"/><text class="vv" x="394" y="95"><tspan font-style="italic">V</tspan><tspan font-size="27" dy="8">O6</tspan></text>
</g>

<!-- ================= PANEL D ================= -->
<text class="pl" x="994" y="897">d</text>
<g clip-path="url(#cD)">
<g transform="matrix(0.065264,0,0,0.54006,1085.55,961.52)">
<path class="c m g" d="M724,645 L1080,645 L1150,640 L1200,628 L1250,612 L1280,600 L1300,590 L1330,580 L1350,570 L1370,575 L1390,560 L1410,545 L1430,540 L1450,525 L1475,520 L1500,528"/>
<path class="c m bl" d="M724,610 L910,610 L1000,605 L1050,590 L1080,560 L1100,520 L1115,512 L1130,530 L1150,560 L1165,570 L1185,540 L1205,560 L1220,550 L1240,545 L1260,530 L1280,525 L1300,540 L1330,540 L1360,530 L1390,525 L1420,520 L1450,505 L1480,500 L1500,500"/>
<path class="c m gr" d="M724,605 L910,605 L1000,600 L1050,580 L1100,550 L1130,510 L1150,490 L1165,500 L1175,480 L1185,510 L1200,540 L1215,560 L1230,540 L1250,510 L1265,490 L1280,490 L1300,520 L1330,535 L1360,540 L1390,520 L1420,510 L1450,510 L1480,505 L1500,510"/>
<path class="c m pu" d="M724,612 L910,612 L1000,608 L1050,595 L1100,560 L1140,520 L1160,540 L1180,560 L1200,570 L1220,560 L1240,530 L1260,500 L1280,470 L1300,480 L1320,500 L1340,510 L1360,535 L1390,530 L1420,510 L1450,505 L1480,500 L1500,495"/>
<path class="c m r" d="M724,548 L910,548 L950,545 L990,530 L1020,500 L1040,450 L1050,400 L1060,375 L1068,400 L1075,405 L1082,372 L1090,380 L1100,480 L1110,600 L1120,700 L1130,750 L1140,735 L1155,680 L1175,620 L1188,590 L1198,620 L1210,660 L1220,655 L1235,630 L1255,620 L1270,600 L1290,560 L1310,530 L1325,500 L1340,520 L1355,555 L1370,560 L1385,555 L1400,560 L1420,530 L1435,500 L1455,520 L1475,510 L1500,520"/>
<path class="c m go" d="M724,595 L910,595 L980,592 L1030,580 L1060,540 L1080,500 L1095,475 L1105,490 L1118,520 L1130,475 L1140,510 L1155,600 L1175,630 L1190,620 L1210,570 L1225,530 L1235,515 L1255,550 L1270,590 L1290,580 L1310,560 L1330,530 L1350,515 L1370,525 L1390,540 L1420,500 L1440,500 L1460,515 L1480,520 L1500,495"/>
<path class="c m st" d="M724,615 L910,615 L1000,612 L1060,600 L1100,580 L1140,555 L1170,530 L1200,505 L1220,470 L1235,490 L1250,520 L1265,500 L1285,505 L1300,485 L1315,460 L1330,440 L1340,465 L1355,535 L1370,540 L1390,530 L1420,520 L1450,510 L1480,505 L1500,500"/>
</g>
<g transform="matrix(0.6231,0,0,0.5357,977,830)">
<path class="c m g" d="M331,779 L345,750 L355,720 L365,640 L375,580 L385,560 L395,520 L405,495 L415,560 L425,650 L435,680 L445,620 L455,540 L470,450 L485,450 L495,365 L510,370 L520,360 L530,380 L545,420 L555,600 L570,850 L585,1000 L600,1110 L620,1185 L650,1210 L700,1225 L740,1240 L780,1258 L830,1272 L900,1278 L1000,1280 L1100,1285 L1200,1288 L1500,1292"/>
<path class="c m st" d="M331,750 L345,680 L360,630 L370,560 L380,505 L388,560 L395,620 L405,650 L415,660 L425,640 L440,600 L450,560 L460,500 L470,420 L478,375 L488,420 L500,410 L515,440 L530,480 L540,600 L550,800 L565,1000 L580,1100 L600,1170 L630,1205 L680,1230 L730,1240 L780,1262 L830,1275 L900,1280 L1000,1280 L1100,1288 L1413,1292"/>
</g>
</g>
<rect x="1428.1" y="913" width="483.5" height="387.3" fill="#fff"/>
<rect x="1544" y="913" width="128.4" height="387.3" fill="url(#rb)"/>
<rect x="1544" y="913" width="23.1" height="387.3" fill="url(#rb1)"/>
<g clip-path="url(#cDi)"><g transform="matrix(0.6231,0,0,0.5357,977,830)">
<path class="c g" d="M724,645 L1080,645 L1150,640 L1200,628 L1250,612 L1280,600 L1300,590 L1330,580 L1350,570 L1370,575 L1390,560 L1410,545 L1430,540 L1450,525 L1475,520 L1500,528"/>
<path class="c bl" d="M724,610 L910,610 L1000,605 L1050,590 L1080,560 L1100,520 L1115,512 L1130,530 L1150,560 L1165,570 L1185,540 L1205,560 L1220,550 L1240,545 L1260,530 L1280,525 L1300,540 L1330,540 L1360,530 L1390,525 L1420,520 L1450,505 L1480,500 L1500,500"/>
<path class="c gr" d="M724,605 L910,605 L1000,600 L1050,580 L1100,550 L1130,510 L1150,490 L1165,500 L1175,480 L1185,510 L1200,540 L1215,560 L1230,540 L1250,510 L1265,490 L1280,490 L1300,520 L1330,535 L1360,540 L1390,520 L1420,510 L1450,510 L1480,505 L1500,510"/>
<path class="c pu" d="M724,612 L910,612 L1000,608 L1050,595 L1100,560 L1140,520 L1160,540 L1180,560 L1200,570 L1220,560 L1240,530 L1260,500 L1280,470 L1300,480 L1320,500 L1340,510 L1360,535 L1390,530 L1420,510 L1450,505 L1480,500 L1500,495"/>
<path class="c r" d="M724,548 L910,548 L950,545 L990,530 L1020,500 L1040,450 L1050,400 L1060,375 L1068,400 L1075,405 L1082,372 L1090,380 L1100,480 L1110,600 L1120,700 L1130,750 L1140,735 L1155,680 L1175,620 L1188,590 L1198,620 L1210,660 L1220,655 L1235,630 L1255,620 L1270,600 L1290,560 L1310,530 L1325,500 L1340,520 L1355,555 L1370,560 L1385,555 L1400,560 L1420,530 L1435,500 L1455,520 L1475,510 L1500,520"/>
<path class="c go" d="M724,595 L910,595 L980,592 L1030,580 L1060,540 L1080,500 L1095,475 L1105,490 L1118,520 L1130,475 L1140,510 L1155,600 L1175,630 L1190,620 L1210,570 L1225,530 L1235,515 L1255,550 L1270,590 L1290,580 L1310,560 L1330,530 L1350,515 L1370,525 L1390,540 L1420,500 L1440,500 L1460,515 L1480,520 L1500,495"/>
<path class="c st" d="M724,615 L910,615 L1000,612 L1060,600 L1100,580 L1140,555 L1170,530 L1200,505 L1220,470 L1235,490 L1250,520 L1265,500 L1285,505 L1300,485 L1315,460 L1330,440 L1340,465 L1355,535 L1370,540 L1390,530 L1420,520 L1450,510 L1480,505 L1500,500"/>
</g></g>
<rect class="ifr" x="1428.1" y="913" width="483.5" height="387.3"/>
<path class="itk" d="M1502.5,1300.3v-6M1576.9,1300.3v-9M1651.2,1300.3v-6M1725.6,1300.3v-9M1800,1300.3v-6M1874.4,1300.3v-9M1428.1,1213.55h9M1428.1,1127.3h9M1428.1,1041.05h9M1428.1,954.8h9M1428.1,1256.7h6M1428.1,1170.4h6M1428.1,1084.2h6M1428.1,997.9h6"/>
<text class="iy" x="1419.5" y="1309.8">0.05</text><text class="iy" x="1419.5" y="1223.55">0.10</text><text class="iy" x="1419.5" y="1137.3">0.15</text><text class="iy" x="1419.5" y="1051.05">0.20</text><text class="iy" x="1419.5" y="964.8">0.25</text>
<text class="ix" x="1428.1" y="1333.5">0</text><text class="ix" x="1576.9" y="1333.5">2</text><text class="ix" x="1725.6" y="1333.5">4</text><text class="ix" x="1874.4" y="1333.5">6</text>
<rect class="fr" x="1132.8" y="913" width="778.8" height="626.8"/>
<path class="tk" d="M1288.6,1539.8v-12M1444.3,1539.8v-12M1600.1,1539.8v-12M1755.8,1539.8v-12M1210.7,1539.8v-7M1366.4,1539.8v-7M1522.2,1539.8v-7M1678,1539.8v-7M1833.7,1539.8v-7M1132.8,1522.1h12M1132.8,1348.2h12M1132.8,1174.3h12M1132.8,1000.4h12M1132.8,1435.2h7M1132.8,1261.3h7M1132.8,1087.4h7"/>
<text class="yl" x="1114" y="1015.4">0.3</text><text class="yl" x="1114" y="1189.3">0.2</text><text class="yl" x="1114" y="1363.2">0.1</text><text class="yl" x="1114" y="1537.1">0.0</text>
<text class="xl" x="1132.8" y="1593">0</text><text class="xl" x="1288.6" y="1593">20</text><text class="xl" x="1444.3" y="1593">40</text><text class="xl" x="1600.1" y="1593">60</text><text class="xl" x="1755.8" y="1593">80</text><text class="xl" x="1911.6" y="1593">100</text>
<text class="tt" x="1543" y="1647" textLength="433" lengthAdjust="spacingAndGlyphs">Photon energy (eV)</text>
<text transform="translate(1020,1246.5) rotate(-90)" font-size="47" text-anchor="middle" textLength="238" lengthAdjust="spacingAndGlyphs">Reflectivity</text>
<rect class="db" x="1140.3" y="1104.3" width="61" height="291.4"/>
<line class="ar" x1="1201.3" y1="1104.3" x2="1349" y2="1104.3"/><polygon class="ah" points="1367.7,1104.3 1349,1095.8 1349,1112.8"/>
<g transform="translate(1439,1388)">
<line x1="0" x2="56" y1="0" y2="0" stroke="#4a4a4a" stroke-width="6"/><text class="lg" x="68" y="14" textLength="122" lengthAdjust="spacingAndGlyphs">Pristine</text>
<line x1="206" x2="261" y1="0" y2="0" stroke="#ee3436" stroke-width="6"/><text class="vv" x="264" y="13"><tspan font-style="italic">V</tspan><tspan font-size="27" dy="8">O1</tspan></text>
<line x1="206" x2="261" y1="41" y2="41" stroke="#3c7de6" stroke-width="6"/><text class="vv" x="264" y="54"><tspan font-style="italic">V</tspan><tspan font-size="27" dy="8">O2</tspan></text>
<line x1="206" x2="261" y1="82" y2="82" stroke="#4cb96a" stroke-width="6"/><text class="vv" x="264" y="95"><tspan font-style="italic">V</tspan><tspan font-size="27" dy="8">O3</tspan></text>
<line x1="334" x2="390" y1="0" y2="0" stroke="#b47ce9" stroke-width="6"/><text class="vv" x="394" y="13"><tspan font-style="italic">V</tspan><tspan font-size="27" dy="8">O4</tspan></text>
<line x1="334" x2="390" y1="41" y2="41" stroke="#c9a02a" stroke-width="6"/><text class="vv" x="394" y="54"><tspan font-style="italic">V</tspan><tspan font-size="27" dy="8">O5</tspan></text>
<line x1="334" x2="390" y1="82" y2="82" stroke="#336fad" stroke-width="6"/><text class="vv" x="394" y="95"><tspan font-style="italic">V</tspan><tspan font-size="27" dy="8">O6</tspan></text>
</g>

<!-- ================= PANEL E ================= -->
<text class="pl" x="17" y="1731">e</text>
<g clip-path="url(#cE)">
<g transform="matrix(0.06536,0,0,0.515,84.42,1616.18)">
<path class="c m g" d="M682,637 L1080,637 L1150,632 L1200,620 L1240,605 L1270,595 L1290,580 L1310,578 L1330,565 L1355,570 L1380,555 L1410,535 L1430,540 L1455,545"/>
<path class="c m bl" d="M682,610 L880,610 L1000,595 L1040,560 L1060,525 L1075,520 L1090,545 L1105,580 L1120,575 L1140,570 L1160,550 L1180,565 L1200,560 L1230,555 L1255,565 L1280,560 L1310,550 L1340,560 L1370,555 L1400,555 L1430,555 L1455,555"/>
<path class="c m gr" d="M682,605 L880,605 L1000,590 L1050,550 L1080,510 L1095,505 L1105,520 L1115,505 L1125,500 L1135,540 L1150,570 L1165,580 L1180,590 L1200,575 L1220,530 L1235,515 L1250,545 L1265,560 L1290,560 L1310,550 L1330,575 L1360,560 L1390,550 L1420,560 L1455,555"/>
<path class="c m pu" d="M682,608 L880,608 L1000,595 L1040,565 L1080,535 L1100,525 L1120,545 L1140,575 L1165,575 L1190,560 L1215,540 L1235,495 L1250,510 L1270,550 L1295,555 L1320,565 L1350,560 L1380,550 L1420,560 L1455,555"/>
<path class="c m r" d="M682,551 L870,551 L920,545 L960,525 L990,480 L1000,420 L1005,405 L1012,430 L1020,475 L1030,455 L1040,520 L1050,640 L1062,720 L1072,760 L1080,770 L1090,740 L1110,680 L1130,630 L1140,605 L1150,620 L1160,660 L1168,665 L1180,640 L1200,620 L1220,615 L1240,595 L1270,570 L1295,540 L1305,535 L1320,560 L1340,585 L1360,580 L1380,570 L1400,545 L1420,560 L1440,565 L1455,568"/>
<path class="c m go" d="M682,592 L870,592 L950,588 L1000,570 L1030,535 L1050,492 L1060,505 L1070,520 L1085,505 L1095,555 L1105,600 L1120,605 L1135,630 L1145,640 L1160,600 L1175,560 L1190,540 L1200,560 L1215,600 L1230,600 L1250,580 L1270,560 L1290,545 L1310,545 L1325,565 L1345,570 L1370,550 L1390,545 L1410,555 L1425,575 L1440,555 L1455,550"/>
<path class="c m st" d="M682,612 L880,612 L1000,600 L1060,570 L1100,540 L1130,520 L1150,515 L1170,515 L1185,490 L1200,510 L1215,520 L1235,500 L1255,500 L1275,490 L1285,500 L1300,540 L1315,585 L1330,580 L1360,560 L1390,550 L1420,555 L1455,560"/>
</g>
<g transform="matrix(0.6231,0,0,0.5293,0,1670)">
<path class="c m g" d="M288,431 L300,425 L310,420 L318,390 L330,420 L340,470 L350,490 L355,500 L360,580 L365,700 L370,740 L378,735 L385,760 L395,770 L405,800 L415,850 L425,900 L435,920 L445,1000 L455,1050 L465,1090 L475,1120 L490,1150 L505,1168 L520,1150 L540,1120 L560,1080 L575,1055 L600,1045 L640,1035 L700,1025 L750,1010 L800,1000 L850,995 L900,990 L950,995 L1000,990 L1050,985 L1100,990 L1150,980 L1200,975 L1300,970 L1400,968 L1457,968"/>
<path class="c m st" d="M288,444 L300,440 L310,435 L315,455 L322,500 L330,560 L340,640 L348,720 L355,735 L362,770 L370,760 L380,800 L390,830 L400,860 L410,920 L420,950 L430,990 L440,1030 L450,1070 L460,1100 L470,1130 L480,1150 L490,1163 L500,1150 L515,1120 L530,1090 L550,1070 L570,1055 L600,1035 L640,1030 L700,1030 L750,1010 L800,1003 L850,1000 L900,995 L950,1000 L1000,995 L1050,990 L1100,985 L1200,980 L1300,975 L1370,970"/>
</g>
</g>
<rect x="425" y="1746.7" width="481.6" height="389.1" fill="#fff"/>
<rect x="540.2" y="1746.7" width="127.8" height="389.1" fill="url(#rb)"/>
<rect x="540.2" y="1746.7" width="23" height="389.1" fill="url(#rb1)"/>
<g clip-path="url(#cEi)"><g transform="matrix(0.6231,0,0,0.5293,0,1670)">
<path class="c g" d="M682,637 L1080,637 L1150,632 L1200,620 L1240,605 L1270,595 L1290,580 L1310,578 L1330,565 L1355,570 L1380,555 L1410,535 L1430,540 L1455,545"/>
<path class="c bl" d="M682,610 L880,610 L1000,595 L1040,560 L1060,525 L1075,520 L1090,545 L1105,580 L1120,575 L1140,570 L1160,550 L1180,565 L1200,560 L1230,555 L1255,565 L1280,560 L1310,550 L1340,560 L1370,555 L1400,555 L1430,555 L1455,555"/>
<path class="c gr" d="M682,605 L880,605 L1000,590 L1050,550 L1080,510 L1095,505 L1105,520 L1115,505 L1125,500 L1135,540 L1150,570 L1165,580 L1180,590 L1200,575 L1220,530 L1235,515 L1250,545 L1265,560 L1290,560 L1310,550 L1330,575 L1360,560 L1390,550 L1420,560 L1455,555"/>
<path class="c pu" d="M682,608 L880,608 L1000,595 L1040,565 L1080,535 L1100,525 L1120,545 L1140,575 L1165,575 L1190,560 L1215,540 L1235,495 L1250,510 L1270,550 L1295,555 L1320,565 L1350,560 L1380,550 L1420,560 L1455,555"/>
<path class="c r" d="M682,551 L870,551 L920,545 L960,525 L990,480 L1000,420 L1005,405 L1012,430 L1020,475 L1030,455 L1040,520 L1050,640 L1062,720 L1072,760 L1080,770 L1090,740 L1110,680 L1130,630 L1140,605 L1150,620 L1160,660 L1168,665 L1180,640 L1200,620 L1220,615 L1240,595 L1270,570 L1295,540 L1305,535 L1320,560 L1340,585 L1360,580 L1380,570 L1400,545 L1420,560 L1440,565 L1455,568"/>
<path class="c go" d="M682,592 L870,592 L950,588 L1000,570 L1030,535 L1050,492 L1060,505 L1070,520 L1085,505 L1095,555 L1105,600 L1120,605 L1135,630 L1145,640 L1160,600 L1175,560 L1190,540 L1200,560 L1215,600 L1230,600 L1250,580 L1270,560 L1290,545 L1310,545 L1325,565 L1345,570 L1370,550 L1390,545 L1410,555 L1425,575 L1440,555 L1455,550"/>
<path class="c st" d="M682,612 L880,612 L1000,600 L1060,570 L1100,540 L1130,520 L1150,515 L1170,515 L1185,490 L1200,510 L1215,520 L1235,500 L1255,500 L1275,490 L1285,500 L1300,540 L1315,585 L1330,580 L1360,560 L1390,550 L1420,555 L1455,560"/>
</g></g>
<rect class="ifr" x="425" y="1746.7" width="481.6" height="389.1"/>
<path class="itk" d="M499.1,2135.8v-6M573.2,2135.8v-9M647.3,2135.8v-6M721.4,2135.8v-9M795.5,2135.8v-6M869.5,2135.8v-9M425,2023.55h9M425,1912.4h9M425,1801.25h9M425,2079.1h6M425,1968h6M425,1856.8h6"/>
<text class="iy" x="416" y="2144.7">1.5</text><text class="iy" x="416" y="2033.55">2.0</text><text class="iy" x="416" y="1922.4">2.5</text><text class="iy" x="416" y="1811.25">3.0</text>
<text class="ix" x="425" y="2167.5">0</text><text class="ix" x="573.2" y="2167.5">2</text><text class="ix" x="721.4" y="2167.5">4</text><text class="ix" x="869.5" y="2167.5">6</text>
<rect class="fr" x="129" y="1744.6" width="778.9" height="625.7"/>
<path class="tk" d="M284.8,2370.3v-12M440.6,2370.3v-12M596.3,2370.3v-12M752.1,2370.3v-12M206.9,2370.3v-7M362.7,2370.3v-7M518.5,2370.3v-7M674.2,2370.3v-7M830,2370.3v-7M129,2176.5h12M129,1960.2h12M129,2284.65h7M129,2068.35h7M129,1852.05h7"/>
<text class="yl" x="115.5" y="1758.9">3</text><text class="yl" x="115.5" y="1975.2">2</text><text class="yl" x="115.5" y="2191.5">1</text>
<text class="xl" x="129" y="2424">0</text><text class="xl" x="284.8" y="2424">20</text><text class="xl" x="440.6" y="2424">40</text><text class="xl" x="596.3" y="2424">60</text><text class="xl" x="752.1" y="2424">80</text><text class="xl" x="907.9" y="2424">100</text>
<text class="tt" x="559" y="2488" textLength="433" lengthAdjust="spacingAndGlyphs">Photon energy (eV)</text>
<text transform="translate(56,2065.7) rotate(-90)" font-size="48" text-anchor="middle" textLength="357" lengthAdjust="spacingAndGlyphs">Refractive index</text>
<rect class="db" x="138.3" y="1779.6" width="59.2" height="248.7"/>
<line class="ar" x1="197.5" y1="1779.6" x2="347" y2="1779.6"/><polygon class="ah" points="365.8,1779.6 347,1771.1 347,1788.1"/>
<g transform="translate(437,2228)">
<line x1="0" x2="56" y1="0" y2="0" stroke="#4a4a4a" stroke-width="6"/><text class="lg" x="68" y="14" textLength="122" lengthAdjust="spacingAndGlyphs">Pristine</text>
<line x1="206" x2="261" y1="0" y2="0" stroke="#ee3436" stroke-width="6"/><text class="vv" x="264" y="13"><tspan font-style="italic">V</tspan><tspan font-size="27" dy="8">O1</tspan></text>
<line x1="206" x2="261" y1="41" y2="41" stroke="#3c7de6" stroke-width="6"/><text class="vv" x="264" y="54"><tspan font-style="italic">V</tspan><tspan font-size="27" dy="8">O2</tspan></text>
<line x1="206" x2="261" y1="82" y2="82" stroke="#4cb96a" stroke-width="6"/><text class="vv" x="264" y="95"><tspan font-style="italic">V</tspan><tspan font-size="27" dy="8">O3</tspan></text>
<line x1="334" x2="390" y1="0" y2="0" stroke="#b47ce9" stroke-width="6"/><text class="vv" x="394" y="13"><tspan font-style="italic">V</tspan><tspan font-size="27" dy="8">O4</tspan></text>
<line x1="334" x2="390" y1="41" y2="41" stroke="#c9a02a" stroke-width="6"/><text class="vv" x="394" y="54"><tspan font-style="italic">V</tspan><tspan font-size="27" dy="8">O5</tspan></text>
<line x1="334" x2="390" y1="82" y2="82" stroke="#336fad" stroke-width="6"/><text class="vv" x="394" y="95"><tspan font-style="italic">V</tspan><tspan font-size="27" dy="8">O6</tspan></text>
</g>

<!-- ================= PANEL F ================= -->
<text class="pl" x="997" y="1731">f</text>
<g clip-path="url(#cF)">
<g transform="matrix(0.065445,0,0,0.085755,1085.42,2271.27)">
<path class="c m g" d="M724,840 L1150,840 L1200,836 L1250,832 L1280,825 L1295,818 L1310,825 L1325,822 L1340,808 L1350,798 L1365,805 L1380,785 L1390,778 L1400,785 L1415,765 L1430,768 L1450,745 L1475,735 L1500,720"/>
<path class="c m bl" d="M724,840 L1020,840 L1060,835 L1090,820 L1110,790 L1125,750 L1140,730 L1160,760 L1180,770 L1200,745 L1215,720 L1240,750 L1260,720 L1280,710 L1300,705 L1320,700 L1345,670 L1370,665 L1395,660 L1420,645 L1445,640 L1470,635 L1500,630"/>
<path class="c m gr" d="M724,840 L1000,840 L1050,835 L1080,820 L1100,800 L1120,770 L1140,740 L1160,690 L1175,700 L1190,685 L1205,720 L1220,740 L1240,700 L1260,690 L1275,730 L1290,695 L1310,680 L1335,670 L1360,665 L1385,660 L1410,650 L1440,635 L1470,640 L1500,635"/>
<path class="c m pu" d="M724,840 L1040,840 L1080,835 L1110,820 L1135,790 L1150,780 L1170,745 L1190,770 L1210,750 L1230,740 L1250,760 L1275,720 L1300,680 L1320,680 L1340,660 L1360,640 L1380,650 L1400,665 L1420,650 L1440,640 L1470,635 L1500,625"/>
<path class="c m r" d="M724,840 L900,840 L950,835 L990,825 L1010,810 L1025,770 L1040,720 L1050,685 L1060,678 L1068,680 L1080,610 L1090,555 L1098,480 L1108,470 L1115,380 L1120,390 L1128,470 L1135,580 L1145,660 L1155,730 L1165,745 L1180,720 L1195,660 L1205,670 L1215,730 L1235,755 L1255,735 L1275,745 L1300,735 L1320,700 L1335,670 L1350,640 L1370,650 L1395,660 L1405,680 L1420,660 L1440,640 L1460,650 L1480,640 L1500,640"/>
<path class="c m go" d="M724,840 L950,840 L1000,835 L1040,825 L1065,800 L1080,740 L1095,730 L1110,690 L1125,660 L1140,635 L1155,680 L1170,720 L1185,665 L1195,700 L1210,755 L1225,770 L1245,720 L1260,680 L1275,700 L1295,735 L1320,710 L1345,680 L1370,670 L1395,680 L1415,660 L1435,650 L1460,640 L1480,650 L1500,640"/>
<path class="c m st" d="M724,840 L1060,840 L1100,838 L1130,830 L1160,815 L1180,800 L1200,780 L1220,740 L1240,710 L1255,690 L1270,710 L1290,700 L1305,690 L1320,680 L1340,640 L1350,605 L1365,620 L1380,640 L1400,660 L1420,650 L1440,640 L1460,630 L1480,635 L1500,628"/>
</g>
<g transform="matrix(0.6231,0,0,0.5293,977,1670)">
<path class="c m g" d="M331,1252 L345,1245 L360,1235 L375,1225 L390,1205 L400,1180 L410,1160 L420,1145 L430,1140 L440,1130 L450,1130 L460,1120 L470,1110 L480,1100 L490,1070 L500,1020 L505,940 L510,880 L520,720 L530,600 L540,500 L548,420 L555,360 L565,310 L572,285 L578,290 L585,380 L595,520 L605,700 L615,820 L625,880 L640,920 L655,960 L670,990 L685,1005 L700,1010 L720,1020 L740,1030 L760,1070 L780,1110 L800,1150 L820,1170 L850,1180 L880,1185 L900,1190 L930,1200 L960,1210 L990,1215 L1020,1220 L1060,1222 L1090,1225 L1110,1232 L1130,1240 L1150,1255 L1180,1265 L1250,1268 L1320,1270 L1500,1272"/>
<path class="c m st" d="M331,1238 L345,1230 L360,1215 L375,1200 L385,1170 L395,1140 L405,1130 L420,1115 L440,1105 L460,1085 L475,1070 L485,1020 L495,940 L505,800 L515,650 L525,480 L535,350 L545,300 L553,320 L560,420 L570,600 L580,750 L595,850 L615,910 L635,960 L655,990 L675,1010 L695,1020 L715,1040 L735,1080 L760,1130 L790,1170 L820,1180 L850,1185 L880,1190 L920,1200 L960,1210 L990,1222 L1000,1245 L1015,1260 L1040,1265 L1100,1267 L1170,1270 L1413,1272"/>
</g>
</g>
<rect x="1428.1" y="1739.9" width="483.5" height="387.9" fill="#fff"/>
<rect x="1539" y="1739.9" width="127.8" height="387.9" fill="url(#rb)"/>
<rect x="1539" y="1739.9" width="23" height="387.9" fill="url(#rb1)"/>
<g clip-path="url(#cFi)"><g transform="matrix(0.6231,0,0,0.5293,977,1670)">
<path class="c g" d="M724,840 L1150,840 L1200,836 L1250,832 L1280,825 L1295,818 L1310,825 L1325,822 L1340,808 L1350,798 L1365,805 L1380,785 L1390,778 L1400,785 L1415,765 L1430,768 L1450,745 L1475,735 L1500,720"/>
<path class="c bl" d="M724,840 L1020,840 L1060,835 L1090,820 L1110,790 L1125,750 L1140,730 L1160,760 L1180,770 L1200,745 L1215,720 L1240,750 L1260,720 L1280,710 L1300,705 L1320,700 L1345,670 L1370,665 L1395,660 L1420,645 L1445,640 L1470,635 L1500,630"/>
<path class="c gr" d="M724,840 L1000,840 L1050,835 L1080,820 L1100,800 L1120,770 L1140,740 L1160,690 L1175,700 L1190,685 L1205,720 L1220,740 L1240,700 L1260,690 L1275,730 L1290,695 L1310,680 L1335,670 L1360,665 L1385,660 L1410,650 L1440,635 L1470,640 L1500,635"/>
<path class="c pu" d="M724,840 L1040,840 L1080,835 L1110,820 L1135,790 L1150,780 L1170,745 L1190,770 L1210,750 L1230,740 L1250,760 L1275,720 L1300,680 L1320,680 L1340,660 L1360,640 L1380,650 L1400,665 L1420,650 L1440,640 L1470,635 L1500,625"/>
<path class="c r" d="M724,840 L900,840 L950,835 L990,825 L1010,810 L1025,770 L1040,720 L1050,685 L1060,678 L1068,680 L1080,610 L1090,555 L1098,480 L1108,470 L1115,380 L1120,390 L1128,470 L1135,580 L1145,660 L1155,730 L1165,745 L1180,720 L1195,660 L1205,670 L1215,730 L1235,755 L1255,735 L1275,745 L1300,735 L1320,700 L1335,670 L1350,640 L1370,650 L1395,660 L1405,680 L1420,660 L1440,640 L1460,650 L1480,640 L1500,640"/>
<path class="c go" d="M724,840 L950,840 L1000,835 L1040,825 L1065,800 L1080,740 L1095,730 L1110,690 L1125,660 L1140,635 L1155,680 L1170,720 L1185,665 L1195,700 L1210,755 L1225,770 L1245,720 L1260,680 L1275,700 L1295,735 L1320,710 L1345,680 L1370,670 L1395,680 L1415,660 L1435,650 L1460,640 L1480,650 L1500,640"/>
<path class="c st" d="M724,840 L1060,840 L1100,838 L1130,830 L1160,815 L1180,800 L1200,780 L1220,740 L1240,710 L1255,690 L1270,710 L1290,700 L1305,690 L1320,680 L1340,640 L1350,605 L1365,620 L1380,640 L1400,660 L1420,650 L1440,640 L1460,630 L1480,635 L1500,628"/>
</g></g>
<rect class="ifr" x="1428.1" y="1739.9" width="483.5" height="387.9"/>
<path class="itk" d="M1502.5,2127.8v-6M1576.9,2127.8v-9M1651.2,2127.8v-6M1725.6,2127.8v-9M1800,2127.8v-6M1874.4,2127.8v-9M1428.1,2114.6h9M1428.1,1965.6h9M1428.1,1816.6h9M1428.1,2040.1h6M1428.1,1891.1h6"/>
<text class="iy" x="1419.5" y="2124.6">0.0</text><text class="iy" x="1419.5" y="1975.6">0.1</text><text class="iy" x="1419.5" y="1826.6">0.2</text>
<text class="ix" x="1428.1" y="2162">0</text><text class="ix" x="1576.9" y="2162">2</text><text class="ix" x="1725.6" y="2162">4</text><text class="ix" x="1874.4" y="2162">6</text>
<rect class="fr" x="1132.8" y="1739.9" width="778.8" height="627.7"/>
<path class="tk" d="M1288.6,2367.6v-12M1444.3,2367.6v-12M1600.1,2367.6v-12M1755.8,2367.6v-12M1210.7,2367.6v-7M1366.4,2367.6v-7M1522.2,2367.6v-7M1678,2367.6v-7M1833.7,2367.6v-7M1132.8,2343.3h12M1132.8,2222.6h12M1132.8,2101.9h12M1132.8,1981.2h12M1132.8,1860.5h12M1132.8,2282.95h7M1132.8,2162.25h7M1132.8,2041.55h7M1132.8,1920.85h7M1132.8,1800.15h7"/>
<text class="yl" x="1117" y="1754.8">2.5</text><text class="yl" x="1117" y="1875.5">2.0</text><text class="yl" x="1117" y="1996.2">1.5</text><text class="yl" x="1117" y="2116.9">1.0</text><text class="yl" x="1117" y="2237.6">0.5</text><text class="yl" x="1117" y="2358.3">0.0</text>
<text class="xl" x="1132.8" y="2419">0</text><text class="xl" x="1288.6" y="2419">20</text><text class="xl" x="1444.3" y="2419">40</text><text class="xl" x="1600.1" y="2419">60</text><text class="xl" x="1755.8" y="2419">80</text><text class="xl" x="1911.6" y="2419">100</text>
<text class="tt" x="1548" y="2482.5" textLength="433" lengthAdjust="spacingAndGlyphs">Photon energy (eV)</text>
<text transform="translate(1025,2041.8) rotate(-90)" font-size="47" text-anchor="middle" textLength="447" lengthAdjust="spacingAndGlyphs">Energy loss function</text>
<rect class="db" x="1139" y="2252.2" width="48.6" height="105.8"/>
<line class="ar" x1="1187.6" y1="2256.5" x2="1395.7" y2="2142.7"/><polygon class="ah" points="1413.2,2133.1 1399.7,2150.2 1391.6,2135.2"/>
<g transform="translate(1439,2197)">
<line x1="0" x2="56" y1="0" y2="0" stroke="#4a4a4a" stroke-width="6"/><text class="lg" x="68" y="14" textLength="122" lengthAdjust="spacingAndGlyphs">Pristine</text>
<line x1="206" x2="261" y1="0" y2="0" stroke="#ee3436" stroke-width="6"/><text class="vv" x="264" y="13"><tspan font-style="italic">V</tspan><tspan font-size="27" dy="8">O1</tspan></text>
<line x1="206" x2="261" y1="41" y2="41" stroke="#3c7de6" stroke-width="6"/><text class="vv" x="264" y="54"><tspan font-style="italic">V</tspan><tspan font-size="27" dy="8">O2</tspan></text>
<line x1="206" x2="261" y1="82" y2="82" stroke="#4cb96a" stroke-width="6"/><text class="vv" x="264" y="95"><tspan font-style="italic">V</tspan><tspan font-size="27" dy="8">O3</tspan></text>
<line x1="334" x2="390" y1="0" y2="0" stroke="#b47ce9" stroke-width="6"/><text class="vv" x="394" y="13"><tspan font-style="italic">V</tspan><tspan font-size="27" dy="8">O4</tspan></text>
<line x1="334" x2="390" y1="41" y2="41" stroke="#c9a02a" stroke-width="6"/><text class="vv" x="394" y="54"><tspan font-style="italic">V</tspan><tspan font-size="27" dy="8">O5</tspan></text>
<line x1="334" x2="390" y1="82" y2="82" stroke="#336fad" stroke-width="6"/><text class="vv" x="394" y="95"><tspan font-style="italic">V</tspan><tspan font-size="27" dy="8">O6</tspan></text>
</g>
</svg>
</body></html>
